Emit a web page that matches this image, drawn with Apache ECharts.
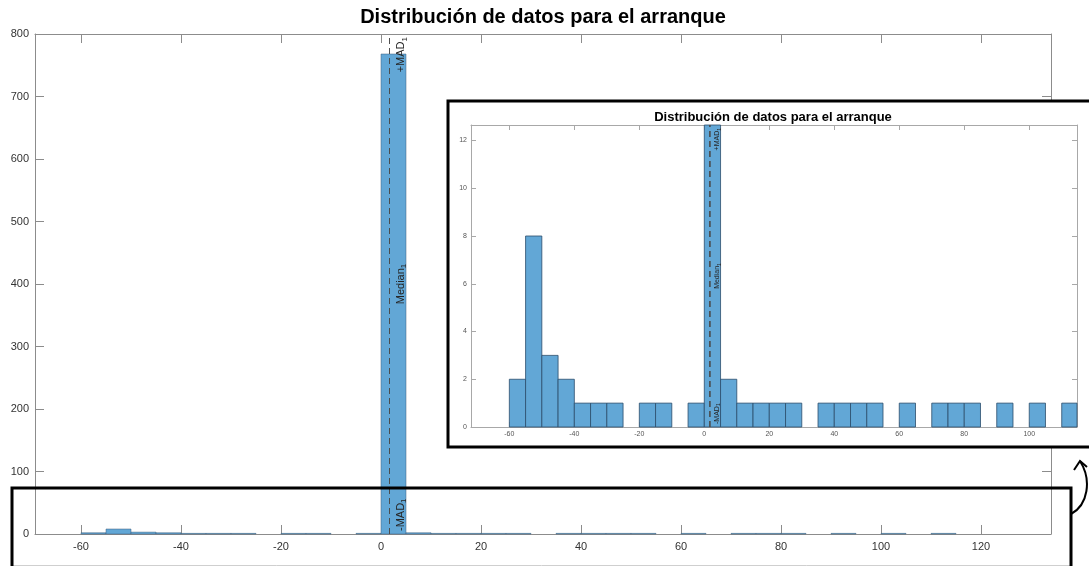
<!DOCTYPE html>
<html>
<head>
<meta charset="utf-8">
<script src="https://cdn.jsdelivr.net/npm/echarts@6/dist/echarts.min.js"></script>
<style>
html,body{margin:0;padding:0;background:#fff;}
#c{width:1089px;height:566px;}
</style>
</head>
<body>
<div id="c"></div>
<script>
// ---- data ----
const titleText = 'Distribución de datos para el arranque';
const binLeft  = [-60,-55,-50,-45,-40,-35,-30,-25,-20,-15,-10,-5,0,5,10,15,20,25,30,35,40,45,50,55,60,65,70,75,80,85,90,95,100,105,110];
const binRight = [-55,-50,-45,-40,-35,-30,-25,-20,-15,-10,-5,0,5,10,15,20,25,30,35,40,45,50,55,60,65,70,75,80,85,90,95,100,105,110,115];
const counts   = [2,8,3,2,1,1,1,0,1,1,0,1,768,2,1,1,1,1,0,1,1,1,1,0,1,0,1,1,1,0,1,0,1,0,1];
const medianValue = 1.65;
const madValue = 0.04;
const mainXTicks = [-60,-40,-20,0,20,40,60,80,100,120];
const mainYTicks = [0,100,200,300,400,500,600,700,800];
const insetXTicks = [-60,-40,-20,0,20,40,60,80,100];
const insetYTicks = [0,2,4,6,8,10,12];

const histData = binLeft.map((l, i) => [l, binRight[i], counts[i]]);

const FONT = '"Liberation Sans", Arial, Helvetica, sans-serif';
const FILL = '#62a7d6';

function makeRender(lw, edge) {
  return function (params, api) {
    const c = api.value(2);
    if (!c) return null;
    const p0 = api.coord([api.value(0), c]);
    const p1 = api.coord([api.value(1), 0]);
    const cs = params.coordSys;
    const shape = echarts.graphic.clipRectByRect(
      {x: p0[0], y: p0[1], width: p1[0] - p0[0], height: p1[1] - p0[1]},
      {x: cs.x, y: cs.y, width: cs.width, height: cs.height});
    if (!shape) return null;
    return {type: 'rect', shape: shape, style: {fill: FILL, stroke: edge, lineWidth: lw}};
  };
}

function medianLines(fs, dist, z) {
  const rich = {
    m: {fontSize: fs, color: '#262626', fontFamily: FONT},
    s: {fontSize: Math.round(fs * 0.75), color: '#262626', fontFamily: FONT, verticalAlign: 'bottom', padding: [Math.round(fs*0.5),0,0,0]}
  };
  return {
    z: z,
    symbol: 'none', silent: true, animation: false,
    lineStyle: {color: '#4a4a4a', type: [6, 4], width: 0.7},
    label: {show: true, rich: rich, distance: dist},
    data: [
      {xAxis: medianValue + madValue, label: {position: 'insideEndBottom', formatter: '{m|+MAD}{s|1}'}},
      {xAxis: medianValue, label: {position: 'insideMiddleBottom', formatter: '{m|Median}{s|1}'}},
      {xAxis: medianValue - madValue, label: {position: 'insideStartBottom', formatter: '{m|-MAD}{s|1}'}}
    ]
  };
}

function ax(gridIndex, pos, min, max, ticks, showLabel, fs, color, lineColor, tlen, margin, z) {
  return {
    type: 'value', gridIndex: gridIndex, position: pos, min: min, max: max, z: z,
    splitLine: {show: false},
    axisLine: {show: true, onZero: false, lineStyle: {color: lineColor, width: 1}},
    axisTick: {show: true, inside: true, length: tlen, customValues: ticks, lineStyle: {color: lineColor}},
    axisLabel: {show: showLabel, customValues: ticks, fontSize: fs, color: color, fontFamily: FONT, margin: margin}
  };
}

const chart = echarts.init(document.getElementById('c'), null, {renderer: 'canvas'});
const option = {
  animation: false,
  backgroundColor: '#fff',
  grid: [
    {left: 35, top: 34, width: 1016, height: 500},
    {left: 471, top: 125, width: 606, height: 302, z: 11}
  ],
  xAxis: [
    ax(0, 'bottom', -69.2, 134, mainXTicks, true, 11, '#333', '#8c8c8c', 9, 7, 0),
    ax(0, 'top', -69.2, 134, mainXTicks, false, 11, '#333', '#8c8c8c', 9, 7, 0),
    ax(1, 'bottom', -71.8, 114.7, insetXTicks, true, 7, '#555', '#a8a8a8', 5, 4, 11),
    ax(1, 'top', -71.8, 114.7, insetXTicks, false, 7, '#555', '#a8a8a8', 5, 4, 11)
  ],
  yAxis: [
    ax(0, 'left', 0, 800, mainYTicks, true, 11, '#333', '#8c8c8c', 9, 6, 0),
    ax(0, 'right', 0, 800, mainYTicks, false, 11, '#333', '#8c8c8c', 9, 6, 0),
    ax(1, 'left', 0, 12.65, insetYTicks, true, 7, '#555', '#a8a8a8', 5, 4, 11),
    ax(1, 'right', 0, 12.65, insetYTicks, false, 7, '#555', '#a8a8a8', 5, 4, 11)
  ],
  series: [
    {
      type: 'custom', xAxisIndex: 0, yAxisIndex: 0, z: 2,
      renderItem: makeRender(0.5, '#3d5f7d'), data: histData, encode: {x: [0, 1], y: 2},
      markLine: medianLines(11, [3, 5], 5)
    },
    {
      type: 'custom', xAxisIndex: 2, yAxisIndex: 2, z: 12,
      renderItem: makeRender(0.8, '#2b4d6b'), data: histData, encode: {x: [0, 1], y: 2},
      markLine: medianLines(7, [3, 3], 14)
    }
  ],
  graphic: {
    elements: [
      {type: 'text', z: 5, style: {text: titleText, x: 543, y: 17, textAlign: 'center', textVerticalAlign: 'middle', font: 'bold 20px ' + FONT, fill: '#000'}},
      {type: 'rect', z: 8, shape: {x: 448, y: 101, width: 700, height: 346}, style: {fill: '#fff', stroke: '#000', lineWidth: 3}},
      {type: 'text', z: 13, style: {text: titleText, x: 773, y: 117, textAlign: 'center', textVerticalAlign: 'middle', font: 'bold 13px ' + FONT, fill: '#000'}},
      {type: 'line', z: 19, shape: {x1: 12, y1: 565.5, x2: 1071, y2: 565.5}, style: {stroke: '#cfcfcf', lineWidth: 1}},
      {type: 'rect', z: 20, shape: {x: 12, y: 488, width: 1059, height: 130}, style: {fill: 'none', stroke: '#000', lineWidth: 3}},
      {type: 'bezierCurve', z: 20, shape: {x1: 1071, y1: 514, cpx1: 1088, cpy1: 505, cpx2: 1092, cpy2: 480, x2: 1080, y2: 461}, style: {fill: 'none', stroke: '#000', lineWidth: 2}},
      {type: 'polyline', z: 20, shape: {points: [[1074, 470], [1080, 461], [1087, 467]]}, style: {fill: 'none', stroke: '#000', lineWidth: 2}}
    ]
  }
};
chart.setOption(option);
</script>
</body>
</html>
